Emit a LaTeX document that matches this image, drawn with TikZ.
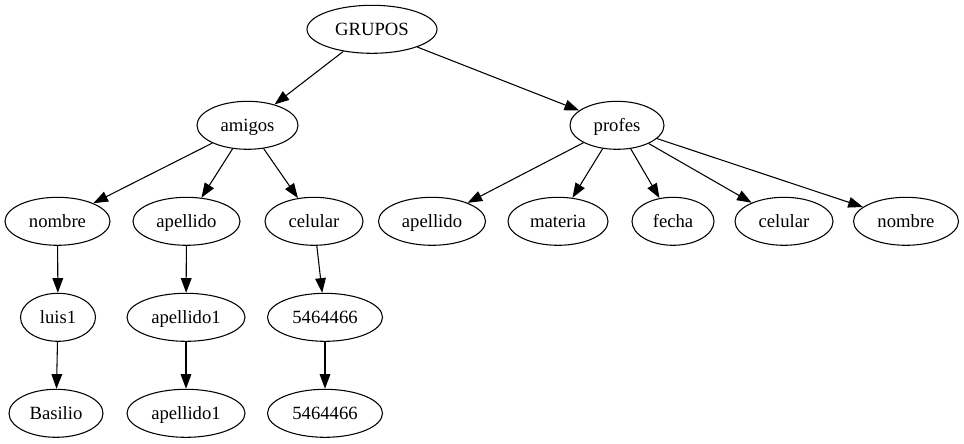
\documentclass[tikz,border=0pt]{standalone}
\usepackage{fontspec}
\setmainfont{Liberation Serif}
\usepackage{tikz}
\usetikzlibrary{shapes.geometric, arrows.meta}

\begin{document}
\begin{tikzpicture}[
          x=0.75pt, y=-0.75pt,
          ell/.style={ellipse, draw, line width=0.8pt, inner sep=0pt,
                      minimum width=#1*0.75pt, minimum height=36pt,
                      text height=12pt, text depth=2pt,
                      font=\fontsize{14}{16}\selectfont},
          arr/.style={-{Triangle[length=11pt, width=8pt]}, line width=0.8pt}
        ]
        \useasboundingbox (0,0) rectangle (964,443);

        % root
        \node[ell=130] (grupos) at (372, 29.3) {GRUPOS};

        % second level
        \node[ell=101] (amigos) at (247.5, 125.3) {amigos};
        \node[ell=94]  (profes) at (617, 125.3) {profes};

        % amigos children
        \node[ell=105] (anombre)   at (57.5, 221.3)  {nombre};
        \node[ell=107] (aapellido) at (186.5, 221.3) {apellido};
        \node[ell=98]  (acelular)  at (314, 221.3)   {celular};

        % profes children
        \node[ell=107] (papellido) at (432, 221.3) {apellido};
        \node[ell=100] (pmateria)  at (558, 221.3) {materia};
        \node[ell=82]  (pfecha)    at (673, 221.3) {fecha};
        \node[ell=98]  (pcelular)  at (784, 221.3) {celular};
        \node[ell=105] (pnombre)   at (906, 221.3) {nombre};

        % values
        \node[ell=75]  (luis)  at (58, 317.3)  {luis1};
        \node[ell=118] (aap1)  at (186, 317.3) {apellido1};
        \node[ell=115] (acel1) at (325, 317.3) {5464466};
        \node[ell=94]  (basilio) at (56, 413.3)  {Basilio};
        \node[ell=118] (aap2)    at (186, 413.3) {apellido1};
        \node[ell=115] (acel2)   at (325, 413.3) {5464466};

        % edges
        \draw[arr] (grupos) -- (amigos);
        \draw[arr] (grupos) -- (profes);
        \draw[arr] (amigos) -- (anombre);
        \draw[arr] (amigos) -- (aapellido);
        \draw[arr] (amigos) -- (acelular);
        \draw[arr] (profes) -- (papellido);
        \draw[arr] (profes) -- (pmateria);
        \draw[arr] (profes) -- (pfecha);
        \draw[arr] (profes) -- (pcelular);
        \draw[arr] (profes) -- (pnombre);
        \draw[arr] (anombre) -- (luis);
        \draw[arr] (luis) -- (basilio);
        \draw[arr] (aapellido) -- (aap1);
        \draw[arr] (aap1) -- (aap2);
        \draw[arr] (acelular) -- (acel1);
        \draw[arr] (acel1) -- (acel2);
      \end{tikzpicture}
\end{document}
